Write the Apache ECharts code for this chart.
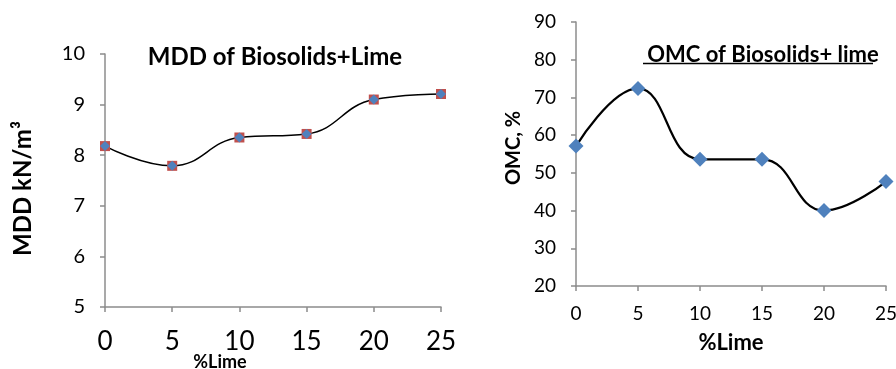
<!DOCTYPE html>
<html><head><meta charset="utf-8">
<script src="https://cdn.jsdelivr.net/npm/echarts@6/dist/echarts.min.js"></script>
<style>html,body{margin:0;padding:0;background:#fff}#c{width:896px;height:369px}</style>
</head><body><div id="c"></div>
<script>
const limePct = [0, 5, 10, 15, 20, 25];
const mddValues = [8.18, 7.79, 8.35, 8.42, 9.10, 9.21];
const omcValues = [57.1, 72.4, 53.6, 53.6, 40.0, 47.7];
const mddTitle = 'MDD of Biosolids+Lime';
const omcTitle = 'OMC of Biosolids+ lime';
const mddYName = 'MDD kN/m³';
const omcYName = 'OMC, %';
const xName = '%Lime';

const FONT = 'Lato';
const axisGray = '#8c8c8c';
const pairs = v => limePct.map((x, i) => [x, v[i]]);

const chart = echarts.init(document.getElementById('c'), null, {renderer: 'canvas'});
const axisCommon = {
  axisLine: {show: true, lineStyle: {color: axisGray, width: 1.5}},
  axisTick: {show: true, inside: false, length: 5, lineStyle: {color: axisGray, width: 1.5}},
  splitLine: {show: false}
};
chart.setOption({
  animation: false,
  backgroundColor: '#fff',
  title: [
    {text: mddTitle, left: 270, top: 40, textAlign: 'center',
     textStyle: {fontFamily: FONT, fontWeight: 'bold', fontSize: 24, color: '#000'}},
    {text: omcTitle, left: 758, top: 39, textAlign: 'center',
     textStyle: {fontFamily: FONT, fontWeight: 'bold', fontSize: 22, color: '#000'}}
  ],
  graphic: [
    {type: 'line', shape: {x1: 643, y1: 63.5, x2: 873, y2: 63.5}, style: {stroke: '#000', lineWidth: 1.5}}
  ],
  grid: [
    {left: 105, right: 455, top: 54, bottom: 62, outerBoundsMode: 'none', containLabel: false},
    {left: 576, right: 10, top: 22, bottom: 83, outerBoundsMode: 'none', containLabel: false}
  ],
  xAxis: [
    Object.assign({gridIndex: 0, type: 'value', min: 0, max: 25, interval: 5,
      name: xName, nameLocation: 'middle', nameGap: 46, nameMoveOverlap: false,
      nameTextStyle: {fontFamily: FONT, fontWeight: 'bold', fontSize: 18, color: '#000', padding: [0, 106, 0, 0]},
      axisLabel: {fontFamily: FONT, fontSize: 26, color: '#000', margin: 22}}, axisCommon),
    Object.assign({gridIndex: 1, type: 'value', min: 0, max: 25, interval: 5,
      name: xName, nameLocation: 'middle', nameGap: 46,
      nameTextStyle: {fontFamily: FONT, fontWeight: 'bold', fontSize: 22, color: '#000'},
      axisLabel: {fontFamily: FONT, fontSize: 19, color: '#000', margin: 18}}, axisCommon)
  ],
  yAxis: [
    Object.assign({gridIndex: 0, type: 'value', min: 5, max: 10, interval: 1,
      name: mddYName, nameLocation: 'middle', nameGap: 70,
      nameTextStyle: {fontFamily: FONT, fontWeight: 'bold', fontSize: 24, color: '#000', padding: [0, 16, 0, 0]},
      axisLabel: {fontFamily: FONT, fontSize: 20, color: '#000', margin: 20}}, axisCommon),
    Object.assign({gridIndex: 1, type: 'value', min: 20, max: 90, interval: 10,
      name: omcYName, nameLocation: 'middle', nameGap: 52,
      nameTextStyle: {fontFamily: FONT, fontWeight: 'bold', fontSize: 20, color: '#000', padding: [0, 0, 0, 12]},
      axisLabel: {fontFamily: FONT, fontSize: 19, color: '#000', margin: 20}}, axisCommon)
  ],
  series: [
    {type: 'line', xAxisIndex: 0, yAxisIndex: 0, data: pairs(mddValues), smooth: 0.45,
     lineStyle: {color: '#000', width: 1.5}, symbol: 'rect', symbolSize: 10,
     itemStyle: {color: '#C0504D'}, z: 2},
    {type: 'line', xAxisIndex: 0, yAxisIndex: 0, data: pairs(mddValues),
     lineStyle: {width: 0, opacity: 0}, symbol: 'diamond', symbolSize: 10,
     itemStyle: {color: '#4F81BD'}, z: 3},
    {type: 'line', xAxisIndex: 1, yAxisIndex: 1, data: pairs(omcValues), smooth: 0.45,
     lineStyle: {color: '#000', width: 2.2}, symbol: 'diamond', symbolSize: 15,
     itemStyle: {color: '#4F81BD'}, z: 3}
  ]
});
</script></body></html>
